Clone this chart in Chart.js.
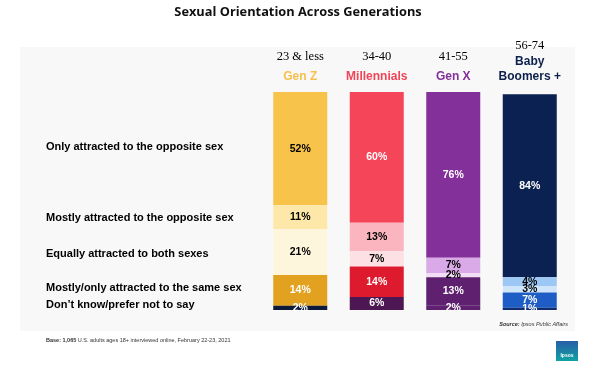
<!DOCTYPE html>
<html>
<head>
<meta charset="utf-8">
<script src="https://cdn.jsdelivr.net/npm/chart.js@4"></script>
<style>
  html, body { margin: 0; padding: 0; background: #fff; }
  #wrap { width: 598px; height: 374px; position: relative; }
</style>
</head>
<body>
<div id="wrap"><canvas id="chart" width="598" height="374"></canvas></div>
<script>
// Data
const generations = ['Gen Z', 'Millennials', 'Gen X', 'Baby Boomers +'];
const ageRanges = ['23 & less', '34-40', '41-55', '56-74'];
const genColors = ['#F6C04A', '#F04458', '#84309A', '#0D1F4D'];

// rows, bottom to top
const rowLabels = [
    'Don\u2019t know/prefer not to say',
    'Mostly/only attracted to the same sex',
    'Equally attracted to both sexes',
    'Mostly attracted to the opposite sex',
    'Only attracted to the opposite sex'
];
const dontKnow = [2, 6, 2, 1];
const sameSex = [14, 14, 13, 7];
const bothSexes = [21, 7, 2, 3];
const mostlyOpposite = [11, 13, 7, 4];
const onlyOpposite = [52, 60, 76, 84];

// segment colours per generation (bottom to top)
const segColors = [
    ['#0E1A3A', '#4C1752', '#5E206F', '#0F2C70'],
    ['#E2A11F', '#DE1B2E', '#5E206F', '#1F5DC6'],
    ['#FEF6DC', '#FDE0E4', '#F3DDF5', '#CFE6FA'],
    ['#FDE7A9', '#FBB5BE', '#DAA9E7', '#9DC8F5'],
    ['#F8C34B', '#F54559', '#84309A', '#0B2152']
];
const textColors = [
    ['#fff', '#fff', '#fff', '#fff'],
    ['#fff', '#fff', '#fff', '#fff'],
    ['#000', '#000', '#000', '#000'],
    ['#000', '#000', '#000', '#000'],
    ['#000', '#fff', '#fff', '#fff']
];
const rowLabelY = [305, 288, 254, 218, 147];

const seriesData = [dontKnow, sameSex, bothSexes, mostlyOpposite, onlyOpposite];

const decorPlugin = {
    id: 'decor',
    beforeDraw(chart) {
        const ctx = chart.ctx;
        ctx.save();
        ctx.fillStyle = '#ffffff';
        ctx.fillRect(0, 0, chart.width, chart.height);
        ctx.fillStyle = '#F8F8F8';
        ctx.fillRect(20, 47, 555, 284);

        // title
        ctx.fillStyle = '#111';
        ctx.font = 'bold 12.8px "Open Sans"';
        ctx.textAlign = 'center';
        ctx.textBaseline = 'middle';
        ctx.fillText('Sexual Orientation Across Generations', 298, 12);

        // row labels
        ctx.textAlign = 'left';
        ctx.font = 'bold 11px "Liberation Sans"';
        ctx.fillStyle = '#000';
        rowLabels.forEach((t, i) => ctx.fillText(t, 46, rowLabelY[i]));

        // headers
        const xs = chart.scales.x;
        generations.forEach((g, i) => {
            const x = xs.getPixelForValue(i);
            ctx.textAlign = 'center';
            ctx.fillStyle = '#000';
            ctx.font = '12.5px "Liberation Serif"';
            ctx.fillText(ageRanges[i], x, i === 3 ? 46 : 57);
            ctx.fillStyle = genColors[i];
            ctx.font = 'bold 12px "Liberation Sans"';
            if (i === 3) {
                ctx.fillText('Baby', x, 62);
                ctx.fillText('Boomers +', x, 77);
            } else {
                ctx.fillText(g, x, 77);
            }
        });

        // source / base
        ctx.fillStyle = '#333';
        ctx.textAlign = 'right';
        ctx.font = 'italic 5.5px "Liberation Sans"';
        const srcRest = 'Ipsos Public Affairs';
        const restW = ctx.measureText(srcRest).width;
        ctx.fillText(srcRest, 568, 324);
        ctx.font = 'bold italic 5.5px "Liberation Sans"';
        ctx.fillText('Source: ', 568 - restW, 324);

        ctx.textAlign = 'left';
        ctx.font = 'bold 5.5px "Liberation Sans"';
        ctx.fillText('Base: 1,065', 46, 340);
        const bw = ctx.measureText('Base: 1,065').width;
        ctx.font = '5.5px "Liberation Sans"';
        ctx.fillText(' U.S. adults ages 18+ interviewed online, February 22-23, 2021', 46 + bw, 340);

        // logo
        const grd = ctx.createLinearGradient(0, 341, 0, 361);
        grd.addColorStop(0, '#2A5CA8');
        grd.addColorStop(1, '#10A3A2');
        ctx.fillStyle = grd;
        ctx.fillRect(556, 341, 22, 20);
        ctx.fillStyle = '#fff';
        ctx.font = 'bold 5px "Liberation Sans"';
        ctx.textAlign = 'center';
        ctx.fillText('Ipsos', 567, 356);
        ctx.restore();
    },
    afterDatasetsDraw(chart) {
        const ctx = chart.ctx;
        ctx.save();
        ctx.font = 'bold 10.5px "Liberation Sans"';
        ctx.textAlign = 'center';
        ctx.textBaseline = 'middle';
        chart.data.datasets.forEach((ds, di) => {
            const meta = chart.getDatasetMeta(di);
            meta.data.forEach((bar, i) => {
                const v = ds.data[i];
                const y = (bar.y + bar.base) / 2;
                ctx.fillStyle = textColors[di][i];
                ctx.fillText(v + '%', bar.x, y);
            });
        });
        ctx.restore();
    }
};

new Chart(document.getElementById('chart'), {
    type: 'bar',
    data: {
        labels: generations,
        datasets: seriesData.map((d, i) => ({
            label: rowLabels[i],
            data: d,
            backgroundColor: segColors[i],
            borderWidth: 0,
            barPercentage: 0.706,
            categoryPercentage: 1.0
        }))
    },
    options: {
        responsive: false,
        animation: false,
        layout: { padding: { left: 262, right: 30, top: 92, bottom: 64 } },
        plugins: { legend: { display: false }, tooltip: { enabled: false } },
        scales: {
            x: { stacked: true, display: false },
            y: { stacked: true, display: false, min: 0, max: 100 }
        }
    },
    plugins: [decorPlugin]
});
</script>
</body>
</html>
